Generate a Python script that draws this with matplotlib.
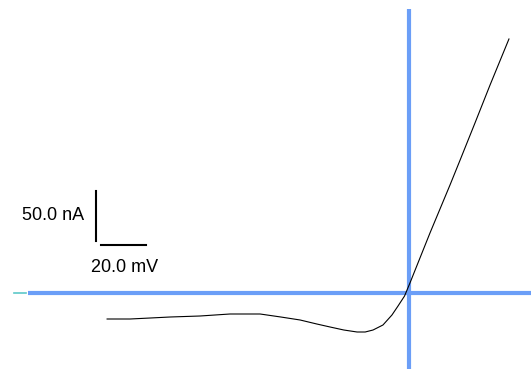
import matplotlib.pyplot as plt

# I-V trace (mV, nA)
voltage = [-134.2, -124.0, -115.0, -106.2, -92.9, -79.6, -66.2, -57.0, -48.4, -41.0,
           -35.1, -29.0, -23.1, -19.5, -16.0, -11.6, -7.6, -4.9, -2.0, 0.4,
           9.3, 18.2, 22.7, 29.3, 36.0, 44.4]
current = [-26, -26, -25, -24, -23, -21, -21, -24, -27, -31,
           -34, -37, -39, -39, -37, -32, -22, -13, -3, 10,
           60, 108, 133, 170, 208, 254]

# scale bar sizes
bar_nA = 50.0
bar_mV = 20.0

blue = '#6b9ef7'

fig = plt.figure(figsize=(5.31, 3.69), dpi=100)
ax = fig.add_axes([0, 0, 1, 1])
ax.set_xlim(-181.8, 54.2)
ax.set_ylim(-76, 293)
ax.axis('off')

# zero axes
ax.plot([-169.3, 54.2], [0, 0], color=blue, lw=3, solid_capstyle='butt')
ax.plot([-175.5, -170.2], [0, 0], color='#5cc8c8', lw=1.2)
ax.plot([0, 0], [-76, 284], color=blue, lw=3, solid_capstyle='butt')

# trace
ax.plot(voltage, current, color='black', lw=0.8)

# scale bar
ax.plot([-139.1, -139.1], [52, 52 + bar_nA], color='black', lw=1.5)
ax.plot([-136.9, -136.9 + bar_mV], [48, 48], color='black', lw=1.5)
ax.text(-144.5, 78, '%.1f nA' % bar_nA, ha='right', va='center',
        fontsize=13, family='Liberation Sans')
ax.text(-126.5, 26, '%.1f mV' % bar_mV, ha='center', va='center',
        fontsize=13, family='Liberation Sans')

fig.savefig('out.png', dpi=100)
